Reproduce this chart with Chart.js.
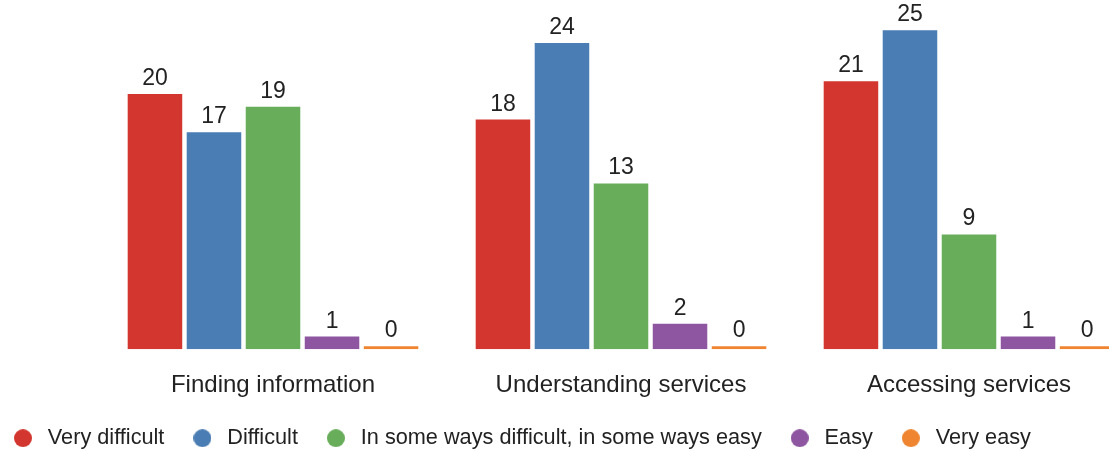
<!DOCTYPE html>
<html>
<head>
<meta charset="utf-8">
<script src="https://cdn.jsdelivr.net/npm/chart.js@4/dist/chart.umd.min.js"></script>
<style>
  html, body { margin: 0; padding: 0; background: #fff; }
  #wrap { position: relative; width: 1109px; height: 451px; overflow: hidden; }
  #box { position: absolute; left: -15px; top: 0; width: 1158px; height: 459px; }
</style>
</head>
<body>
<div id="wrap"><div id="box"><canvas id="chart"></canvas></div></div>
<script>
const categories = ["Finding information", "Understanding services", "Accessing services"]
const seriesNames = ["Very difficult", "Difficult", "In some ways difficult, in some ways easy", "Easy", "Very easy"]
const veryDifficult = [20, 18, 21]
const difficult = [17, 24, 25]
const someWays = [19, 13, 9]
const easy = [1, 2, 1]
const veryEasy = [0, 0, 0]
const colors = ["#d2362e", "#4a7db3", "#68ad5a", "#8e55a0", "#ef8530"]

const FONT = '"Helvetica Neue", Helvetica, Arial, "Liberation Sans", sans-serif'
const TEXT = "#222"

// legend dot drawn as a small canvas so the box can be wider than the dot
const dot = (color) => {
  const c = document.createElement("canvas")
  c.width = 18; c.height = 18
  const g = c.getContext("2d")
  g.fillStyle = color
  g.beginPath(); g.arc(9, 9, 9, 0, Math.PI * 2); g.fill()
  return c
}

// value labels above each bar
const valueLabels = {
  id: "valueLabels",
  afterDatasetsDraw(chart) {
    const ctx = chart.ctx
    ctx.save()
    ctx.font = `23px ${FONT}`
    ctx.fillStyle = TEXT
    ctx.textAlign = "center"
    ctx.textBaseline = "alphabetic"
    chart.data.datasets.forEach((ds, i) => {
      chart.getDatasetMeta(i).data.forEach((bar, j) => {
        ctx.fillText(String(ds.data[j]), bar.x, bar.y - 9)
      })
    })
    ctx.restore()
  }
}

const series = [veryDifficult, difficult, someWays, easy, veryEasy]

new Chart(document.getElementById("chart"), {
  type: "bar",
  data: {
    labels: categories,
    datasets: series.map((data, i) => ({
      label: seriesNames[i],
      data,
      backgroundColor: colors[i],
      borderWidth: 0,
      minBarLength: 3,
      categoryPercentage: 0.848,
      barPercentage: 0.924,
      pointStyle: dot(colors[i])
    }))
  },
  options: {
    responsive: true,
    maintainAspectRatio: false,
    animation: false,
    layout: { padding: { top: 17.5 } },
    plugins: {
      tooltip: { enabled: false },
      legend: {
        position: "bottom",
        align: "start",
        labels: {
          usePointStyle: true,
          pointStyleWidth: 28,
          padding: 24,
          color: TEXT,
          font: { family: FONT, size: 21.7 }
        }
      }
    },
    scales: {
      x: {
        grid: { display: false, drawTicks: false },
        border: { display: false },
        ticks: { color: TEXT, padding: 22, font: { family: FONT, size: 24 } },
        afterFit: (s) => { s.height = 54 }
      },
      y: {
        min: 0,
        max: 26,
        grid: { display: false, drawTicks: false },
        border: { display: false },
        ticks: { display: false },
        afterFit: (s) => { s.width = 114 }
      }
    }
  },
  plugins: [valueLabels]
})
</script>
</body>
</html>
